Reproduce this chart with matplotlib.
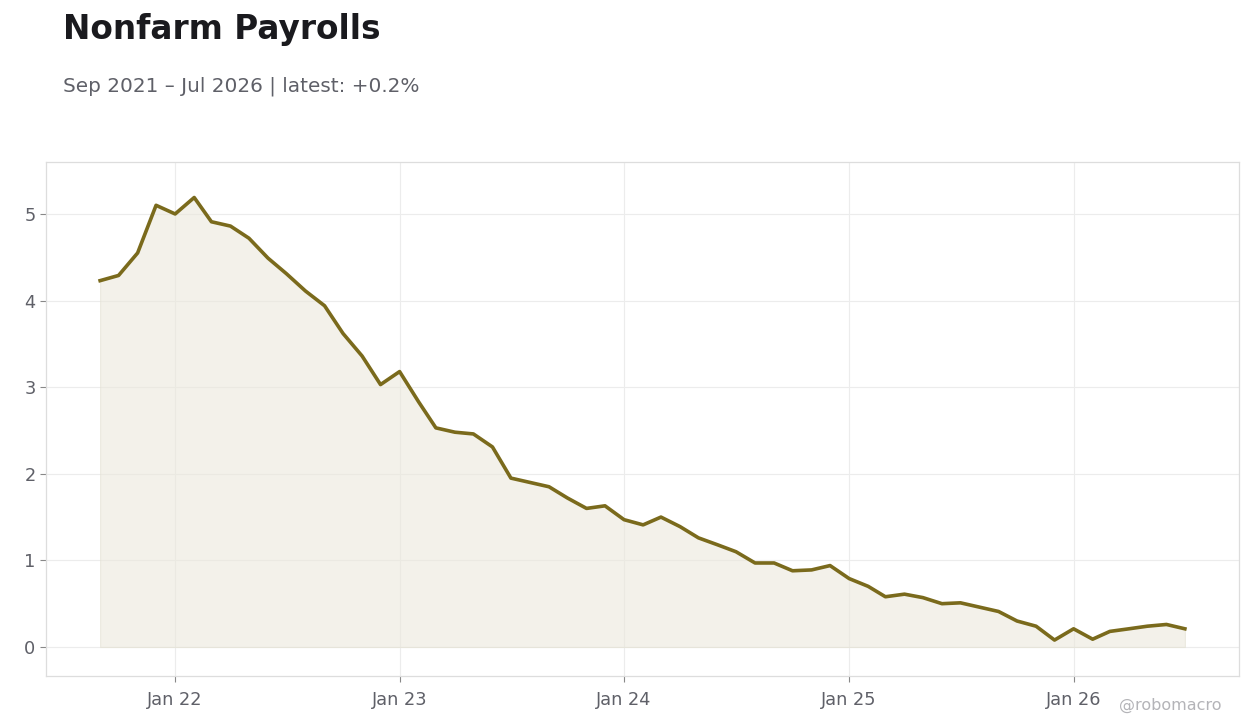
import pandas as pd
import matplotlib.pyplot as plt
import matplotlib.dates as mdates

plt.rcParams['font.family'] = ['DejaVu Sans']

# monthly values, Sep 2021 .. Jul 2026
start = '2021-09-01'
values = [
    4.23, 4.29, 4.55, 5.10,                                                  # 2021 Sep-Dec
    5.00, 5.19, 4.91, 4.86, 4.72, 4.49, 4.31, 4.11, 3.94, 3.62, 3.36, 3.03,  # 2022
    3.18, 2.83, 2.53, 2.48, 2.46, 2.31, 1.95, 1.90, 1.85, 1.72, 1.60, 1.63,  # 2023
    1.47, 1.41, 1.50, 1.39, 1.26, 1.18, 1.10, 0.97, 0.97, 0.88, 0.89, 0.94,  # 2024
    0.79, 0.70, 0.58, 0.61, 0.57, 0.50, 0.51, 0.46, 0.41, 0.30, 0.24, 0.08,  # 2025
    0.21, 0.09, 0.18, 0.21, 0.24, 0.26, 0.21,                                # 2026
]
dates = pd.date_range(start, periods=len(values), freq='MS')

title = 'Nonfarm Payrolls'
subtitle = 'Sep 2021 \u2013 Jul 2026 | latest: +0.2%'
y_ticks = [0, 1, 2, 3, 4, 5]

line_color = '#7a6a1c'
text_gray = '#5f6068'
grid_gray = '#ececec'

fig = plt.figure(figsize=(12.6, 7.28), dpi=100)
ax = fig.add_axes([46 / 1260, 52 / 728, 1193 / 1260, 514 / 728])

ax.fill_between(dates, values, 0, color='#ebe8dc', alpha=0.6,
                edgecolor='#e3e0d2', linewidth=0.8)
ax.plot(dates, values, color=line_color, linewidth=2.6)

ax.set_ylim(-0.335, 5.60)
ax.set_yticks(y_ticks)
ax.set_xlim(pd.Timestamp('2021-06-05'), pd.Timestamp('2026-09-27'))
ax.xaxis.set_major_locator(mdates.YearLocator())
ax.xaxis.set_major_formatter(mdates.DateFormatter('Jan %y'))

ax.grid(True, color=grid_gray, linewidth=0.8)
ax.set_axisbelow(True)
for s in ax.spines.values():
    s.set_color('#dddddd')
    s.set_linewidth(0.9)
ax.tick_params(colors='#888888', labelcolor=text_gray, labelsize=12.8, length=4, width=0.8)
ax.tick_params(axis='x', pad=7)

fig.text(63 / 1260, 1 - 30 / 728, title, fontsize=23.6, fontweight='bold',
         color='#1a1a1e', va='center')
fig.text(63 / 1260, 1 - 86 / 728, subtitle, fontsize=14.4, color=text_gray, va='center')
fig.text(1222 / 1260, 1 - 705 / 728, '@robomacro', fontsize=11.5, color='#b4b4b8',
         ha='right', va='center')

fig.savefig('out.png', dpi=100)
